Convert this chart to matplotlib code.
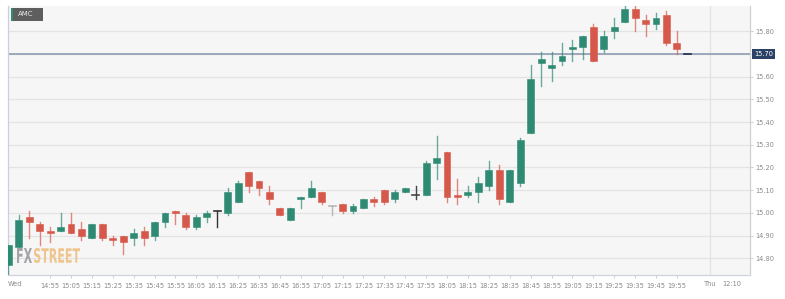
import matplotlib
matplotlib.use("Agg")
import matplotlib.pyplot as plt
from matplotlib.patches import Rectangle, PathPatch
from matplotlib.textpath import TextPath
from matplotlib.font_manager import FontProperties
from matplotlib.transforms import Affine2D, IdentityTransform

# 5-minute candles, AMC
times = ["14:35", "14:40", "14:45", "14:50", "14:55", "15:00", "15:05", "15:10", "15:15", "15:20",
         "15:25", "15:30", "15:35", "15:40", "15:45", "15:50", "15:55", "16:00", "16:05", "16:10",
         "16:15", "16:20", "16:25", "16:30", "16:35", "16:40", "16:45", "16:50", "16:55", "17:00",
         "17:05", "17:10", "17:15", "17:20", "17:25", "17:30", "17:35", "17:40", "17:45", "17:50",
         "17:55", "18:00", "18:05", "18:10", "18:15", "18:20", "18:25", "18:30", "18:35", "18:40",
         "18:45", "18:50", "18:55", "19:00", "19:05", "19:10", "19:15", "19:20", "19:25", "19:30",
         "19:35", "19:40", "19:45", "19:50", "19:55", "20:00"]
opens = [14.77, 14.85, 14.98, 14.95, 14.92, 14.92, 14.95, 14.93, 14.89, 14.95,
         14.89, 14.90, 14.89, 14.92, 14.90, 14.96, 15.01, 14.99, 14.94, 14.98,
         15.01, 15.00, 15.05, 15.18, 15.14, 15.09, 15.02, 14.97, 15.06, 15.07,
         15.09, 15.03, 15.04, 15.01, 15.02, 15.06, 15.10, 15.06, 15.09, 15.08,
         15.08, 15.22, 15.27, 15.08, 15.08, 15.09, 15.12, 15.19, 15.05, 15.13,
         15.35, 15.66, 15.64, 15.67, 15.72, 15.73, 15.82, 15.72, 15.80, 15.84,
         15.90, 15.85, 15.83, 15.87, 15.75, 15.70]
highs = [14.86, 14.99, 15.01, 14.96, 14.94, 15.00, 15.00, 14.96, 14.95, 14.95,
         14.90, 14.90, 14.93, 14.94, 14.96, 15.00, 15.01, 15.00, 14.99, 15.01,
         15.01, 15.11, 15.14, 15.18, 15.14, 15.12, 15.02, 15.02, 15.07, 15.14,
         15.09, 15.03, 15.04, 15.04, 15.06, 15.07, 15.10, 15.10, 15.11, 15.12,
         15.23, 15.34, 15.27, 15.15, 15.12, 15.16, 15.23, 15.21, 15.19, 15.33,
         15.65, 15.71, 15.71, 15.75, 15.76, 15.78, 15.83, 15.80, 15.86, 15.91,
         15.91, 15.87, 15.88, 15.89, 15.80, 15.70]
lows = [14.70, 14.85, 14.89, 14.86, 14.87, 14.92, 14.91, 14.88, 14.89, 14.88,
        14.86, 14.82, 14.86, 14.86, 14.88, 14.94, 14.95, 14.93, 14.93, 14.96,
        14.94, 14.99, 15.05, 15.09, 15.08, 15.04, 14.99, 14.97, 15.02, 15.07,
        15.04, 14.99, 15.00, 15.00, 15.02, 15.03, 15.04, 15.05, 15.09, 15.06,
        15.08, 15.15, 15.05, 15.04, 15.07, 15.05, 15.10, 15.04, 15.05, 15.12,
        15.35, 15.56, 15.58, 15.65, 15.67, 15.68, 15.67, 15.71, 15.77, 15.84,
        15.80, 15.78, 15.81, 15.74, 15.70, 15.70]
closes = [14.86, 14.97, 14.96, 14.92, 14.91, 14.94, 14.91, 14.90, 14.95, 14.89,
          14.88, 14.87, 14.91, 14.89, 14.96, 15.00, 15.00, 14.94, 14.98, 15.00,
          15.01, 15.09, 15.13, 15.12, 15.11, 15.06, 14.99, 15.02, 15.07, 15.11,
          15.05, 15.03, 15.01, 15.03, 15.06, 15.05, 15.05, 15.09, 15.11, 15.08,
          15.22, 15.24, 15.07, 15.07, 15.09, 15.13, 15.19, 15.06, 15.19, 15.32,
          15.59, 15.68, 15.65, 15.69, 15.73, 15.78, 15.67, 15.78, 15.82, 15.90,
          15.86, 15.83, 15.86, 15.75, 15.72, 15.70]
# doji colours (open == close) as drawn on the reference
doji_colors = {20: "#333333", 31: "#b8b8b8", 39: "#444444", 65: "#1f2f4d"}

last_price = 15.70
y_ticks = [14.80, 14.90, 15.00, 15.10, 15.20, 15.30, 15.40, 15.50, 15.60, 15.70, 15.80]
x_tick_labels = times[4:65:2]
day_labels = [("Wed", 0.6), ("Thu", 67.2), ("12:10", 69.3)]

GREEN = "#2f8a73"
RED = "#d6584a"
W, H = 785, 299
Y0, Y1 = 14.7264, 15.9115

fig = plt.figure(figsize=(W / 100, H / 100), dpi=100)
fig.patch.set_facecolor("white")
ax = fig.add_axes([8.3 / W, 1 - 275 / H, (750 - 8.3) / W, (275 - 6) / H])
ax.set_facecolor("#f6f6f6")

n = len(times)
for i in range(n):
    o, h, l, c = opens[i], highs[i], lows[i], closes[i]
    if i in doji_colors:
        col = doji_colors[i]
        ax.plot([i, i], [l, h], color=col, lw=1, zorder=3)
        ax.plot([i - 0.33, i + 0.33], [c, c], color=col, lw=1.2, zorder=3)
        continue
    col = GREEN if c > o else RED
    ax.plot([i, i], [l, h], color=col, lw=1, alpha=0.7, zorder=3)
    ax.bar(i, abs(c - o), bottom=min(o, c), width=0.66, color=col,
           edgecolor=col, linewidth=0.4, zorder=4)

ax.set_xlim(0, 71.0)
ax.set_ylim(Y0, Y1)

# grid + current price line
for v in y_ticks:
    ax.axhline(v, color="#e4e4e4", lw=0.9, zorder=1)
ax.axvline(67.2, color="#e2e2e2", lw=0.9, zorder=1)
ax.axhline(last_price, color="#8797ad", lw=1.1, zorder=2)

ax.yaxis.tick_right()
ax.set_yticks(y_ticks)
# the 15.70 label sits under the last-price tag
ax.set_yticklabels(["" if abs(v - last_price) < 1e-9 else f"{v:.2f}" for v in y_ticks])
ax.set_xticks(range(4, 65, 2))
ax.set_xticklabels(x_tick_labels)
ax.tick_params(axis="both", labelsize=4.8, colors="#c8c8c8", labelcolor="#8a8a8a",
               length=2, width=0.6, pad=2)
ax.tick_params(axis="x", pad=4)

ax.spines["top"].set_visible(False)
ax.spines["left"].set_color("#c9d0e2")
ax.spines["bottom"].set_color("#cfd3e0")
ax.spines["right"].set_color("#d0d0d0")
for s in ["left", "bottom", "right"]:
    ax.spines[s].set_linewidth(0.9)

for lab, pos in day_labels:
    ax.text(pos, -0.032, lab, transform=ax.get_xaxis_transform(), ha="center", va="center",
            fontsize=4.8, color="#8a8a8a")

# last price tag on the right axis
ax.text(1.006, (last_price - Y0) / (Y1 - Y0), f"{last_price:.2f}",
        transform=ax.transAxes, ha="left", va="center", fontsize=4.8, color="white",
        bbox=dict(boxstyle="square,pad=0.3", fc="#2c4166", ec="none"), zorder=10)

# symbol badge
fig.patches.append(Rectangle((11 / W, 1 - 21 / H), 32 / W, 13 / H, transform=fig.transFigure,
                             fc="#5e5e5e", ec="none", zorder=5))
fig.patches.append(Rectangle((11 / W, 1 - 21 / H), 1.5 / W, 13 / H, transform=fig.transFigure,
                             fc=GREEN, ec="none", zorder=6))
fig.text(18 / W, 1 - 14.5 / H, "AMC", fontsize=5, color="#e8e8e8", va="center", ha="left",
         zorder=7)


# watermark, squeezed into a condensed box (pixel coords from the top-left)
def squeezed_text(s, left, right, top, bottom, color):
    tp = TextPath((0, 0), s, size=20, prop=FontProperties(family="DejaVu Sans", weight="bold"))
    ext = tp.get_extents()
    sx = (right - left) / ext.width
    sy = (bottom - top) / ext.height
    tr = Affine2D().translate(-ext.x0, -ext.y0).scale(sx, sy).translate(left, H - bottom)
    fig.patches.append(PathPatch(tr.transform_path(tp), transform=IdentityTransform(),
                                 fc=color, ec="none", zorder=2))


squeezed_text("FX", 17, 32, 248, 263, "#a3a3a8")
squeezed_text("STREET", 34, 80, 248, 263, "#efc58e")

fig.savefig("out.png", dpi=100)
